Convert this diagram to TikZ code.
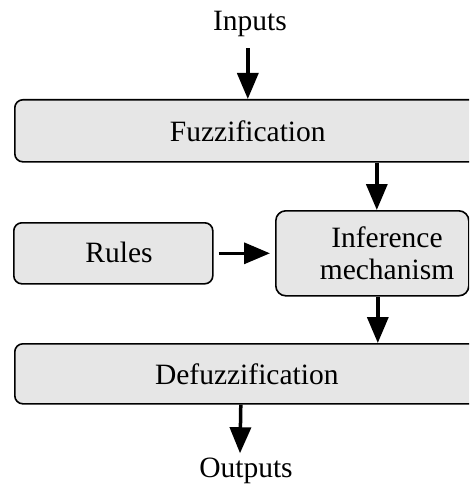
\documentclass[tikz,border=0pt]{standalone}
\usepackage{fontspec}
\setmainfont{Liberation Serif}
\usetikzlibrary{arrows.meta}
\definecolor{boxfill}{HTML}{E6E6E6}
\tikzset{
  stage/.style={draw=black, line width=1.6pt, fill=boxfill, rounded corners=8pt,
    inner sep=0pt, anchor=north west},
  label text/.style={inner sep=0pt, font=\fontsize{29.5}{32}\selectfont, align=center},
  flow/.style={line width=3.5pt, -{Triangle[length=26pt,width=21pt]}}
}
\begin{document}
\begin{tikzpicture}[x=1pt,y=-1pt]
  \useasboundingbox (0,0) rectangle (469,484);
  \clip (0,0) rectangle (469,484);

  % processing stages
  \node[stage, minimum width=466pt, minimum height=62pt,
        label text] (fuzz) at (14,99) {Fuzzification};
  \node[stage, minimum width=199pt, minimum height=61pt] (rules) at (13,222) {};
  \node[label text] (rulestext) at (119,252.5) {Rules};
  \node[stage, minimum width=193pt, minimum height=85pt, rounded corners=10pt] (inf) at (275,210) {};
  \node[label text] (inftext) at (387,253) {Inference\\mechanism};
  \node[stage, minimum width=464pt, minimum height=60pt,
        label text] (defuzz) at (14,343) {Defuzzification};

  % inputs and outputs
  \node[label text, anchor=base] (inputs) at (250,30.7) {Inputs};
  \node[label text, anchor=base] (outputs) at (246,477) {Outputs};

  % signal flow
  \draw[flow] ([yshift=-11pt]inputs.south -| fuzz.north) -- (fuzz.north);
  \draw[flow] ([xshift=4.5pt]inf.north |- fuzz.south) -- ([xshift=4.5pt]inf.north);
  \draw[flow] ([xshift=5pt]rules.east) -- ([xshift=-5pt]rules.east -| inf.west);
  \draw[flow] ([xshift=5.5pt]inf.south) -- ([xshift=5.5pt]inf.south |- defuzz.north);
  \draw[flow] ([xshift=-6pt]defuzz.south) -- ([xshift=-6pt,yshift=4pt]outputs.north);
\end{tikzpicture}
\end{document}
